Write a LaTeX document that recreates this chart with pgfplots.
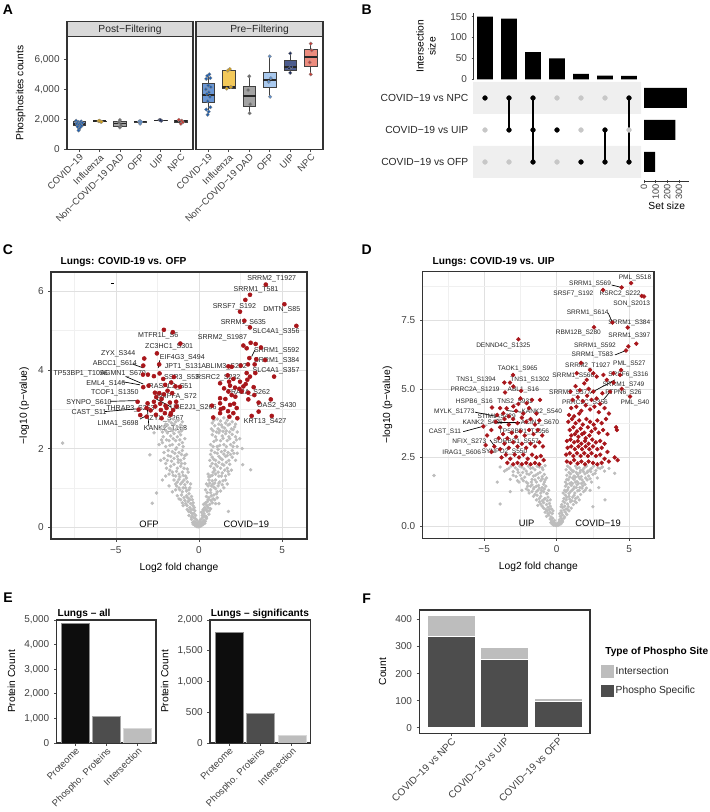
\documentclass[border=0pt]{standalone}
\usepackage{fontspec}
\setmainfont{Liberation Sans}
\usepackage{pgfplots}
\pgfplotsset{compat=1.18}
\usepgfplotslibrary{statistics}

\definecolor{covf}{HTML}{6A97D6}\definecolor{covp}{HTML}{1F5FAF}
\definecolor{inff}{HTML}{F3C95A}\definecolor{infp}{HTML}{D4A017}
\definecolor{dadf}{HTML}{A3A3A3}\definecolor{dadp}{HTML}{6E6E6E}
\definecolor{ofpf}{HTML}{A9C9EE}\definecolor{ofpp}{HTML}{5B8FD0}
\definecolor{uipf}{HTML}{4C5C8E}\definecolor{uipp}{HTML}{1B2A5C}
\definecolor{npcf}{HTML}{EC8C7E}\definecolor{npcp}{HTML}{C43B35}
\definecolor{vgray}{HTML}{BDBDBD}\definecolor{vred}{HTML}{A8161B}
\definecolor{strip}{HTML}{D9D9D9}\definecolor{band}{HTML}{EFEFEF}
\definecolor{phs}{HTML}{4D4D4D}\definecolor{ints}{HTML}{BDBDBD}

\newcommand{\ft}{\fontsize{7.5}{8.5}\selectfont}
\newcommand{\fts}{\fontsize{7.1}{8}\selectfont}
\newcommand{\fl}{\fontsize{7.7}{9}\selectfont}
\newcommand{\ftb}{\fontsize{7.6}{9}\selectfont\bfseries}
\newcommand{\fpl}{\fontsize{10.5}{12}\selectfont\bfseries}

\tikzset{
  lc/.style={font=\fontsize{5.3}{6}\selectfont, inner sep=0.3pt, text=black!85},
  ld/.style={font=\fontsize{4.9}{5.6}\selectfont, inner sep=0.3pt, text=black!85},
}
\pgfplotsset{
  every axis/.append style={scale only axis, tick align=outside, major tick length=2pt,
    minor tick length=0pt, tick style={black!70, line width=0.5pt},
    axis line style={black!80, line width=0.8pt}, tick pos=left,
    tick label style={font=\ft, text=black!75}, label style={font=\fl},
    /pgf/number format/assume math mode=true},
  vol/.style={grid=both, major grid style={black!12, line width=0.5pt},
    minor grid style={black!6, line width=0.35pt}, axis line style={black!80, line width=1.1pt},
    xlabel={Log2 fold change}, ylabel={−log10 (p−value)}},
  bx/.style={boxplot/draw direction=y, boxplot/every median/.style={draw=black!85, line width=1.3pt}},
}

\begin{document}
\begin{tikzpicture}
\useasboundingbox (0,0) rectangle (531.75pt,609pt);

% ---------------- Panel A ----------------
\begin{axis}[name=a1, at={(50.25pt,496.9pt)}, anchor=south west, width=94.5pt, height=84.4pt,
  bx, xmin=0.4, xmax=6.6, ymin=-20, ymax=7500, xtick={1,2,3,4,5,6},
  xticklabels={COVID−19,Influenza,Non−COVID−19 DAD,OFP,UIP,NPC},
  xticklabel style={rotate=45, anchor=north east, inner sep=0.5pt, font=\fts},
  ytick={0,2000,4000,6000}, yticklabels={0,{2,000},{4,000},{6,000}},
  ylabel={Phosphosites counts}]
\addplot[boxplot prepared={draw position=1, lower whisker=1250, lower quartile=1580, median=1670, upper quartile=1840, upper whisker=1900, box extend=0.62, whisker extend=0}, draw=black!75, fill=covf] coordinates {};
\addplot[boxplot prepared={draw position=2, lower whisker=1830, lower quartile=1840, median=1860, upper quartile=1890, upper whisker=1900, box extend=0.62, whisker extend=0}, draw=black!75, fill=inff] coordinates {};
\addplot[boxplot prepared={draw position=3, lower whisker=1450, lower quartile=1560, median=1710, upper quartile=1840, upper whisker=1950, box extend=0.62, whisker extend=0}, draw=black!75, fill=dadf] coordinates {};
\addplot[boxplot prepared={draw position=4, lower whisker=1700, lower quartile=1810, median=1850, upper quartile=1880, upper whisker=1880, box extend=0.62, whisker extend=0}, draw=black!75, fill=ofpf] coordinates {};
\addplot[boxplot prepared={draw position=5, lower whisker=1900, lower quartile=1905, median=1920, upper quartile=1940, upper whisker=1950, box extend=0.62, whisker extend=0}, draw=black!75, fill=uipf] coordinates {};
\addplot[boxplot prepared={draw position=6, lower whisker=1700, lower quartile=1800, median=1880, upper quartile=1920, upper whisker=1960, box extend=0.62, whisker extend=0}, draw=black!75, fill=npcf] coordinates {};
\addplot[only marks, mark=*, mark size=1.35pt, mark options={fill=covp, draw=black!45, line width=0.2pt}] coordinates {(0.85,1900)(1.1,1850)(0.95,1820)(1.05,1800)(0.9,1780)(1.15,1750)(1.0,1700)(0.88,1680)(1.08,1650)(0.95,1600)(1.12,1550)(0.92,1500)(1.05,1450)(1.0,1350)(0.97,1250)};
\addplot[only marks, mark=*, mark size=1.35pt, mark options={fill=infp, draw=black!45, line width=0.2pt}] coordinates {(1.95,1880)(2.05,1840)(2.0,1900)(2.1,1830)};
\addplot[only marks, mark=*, mark size=1.35pt, mark options={fill=dadp, draw=black!45, line width=0.2pt}] coordinates {(3.0,1950)(2.95,1800)(3.05,1600)(3.0,1450)};
\addplot[only marks, mark=*, mark size=1.35pt, mark options={fill=ofpp, draw=black!45, line width=0.2pt}] coordinates {(4.0,1880)(3.95,1850)(4.05,1820)(4.0,1700)};
\addplot[only marks, mark=*, mark size=1.35pt, mark options={fill=uipp, draw=black!45, line width=0.2pt}] coordinates {(5.0,1920)(4.95,1950)(5.05,1900)(5.0,1930)};
\addplot[only marks, mark=*, mark size=1.35pt, mark options={fill=npcp, draw=black!45, line width=0.2pt}] coordinates {(5.9,1960)(6.05,1900)(6.1,1800)(6.0,1700)};
\end{axis}

\begin{axis}[name=a2, at={(147pt,496.9pt)}, anchor=south west, width=95.25pt, height=84.4pt,
  bx, xmin=0.4, xmax=6.6, ymin=-20, ymax=7500, xtick={1,2,3,4,5,6},
  xticklabels={COVID−19,Influenza,Non−COVID−19 DAD,OFP,UIP,NPC},
  xticklabel style={rotate=45, anchor=north east, inner sep=0.5pt, font=\fts},
  ytick={0,2000,4000,6000}, yticklabels={}, ytick style={draw=none}]
\addplot[boxplot prepared={draw position=1, lower whisker=2300, lower quartile=3110, median=3640, upper quartile=4400, upper whisker=5020, box extend=0.62, whisker extend=0}, draw=black!75, fill=covf] coordinates {};
\addplot[boxplot prepared={draw position=2, lower whisker=4050, lower quartile=4070, median=4150, upper quartile=5270, upper whisker=5350, box extend=0.62, whisker extend=0}, draw=black!75, fill=inff] coordinates {};
\addplot[boxplot prepared={draw position=3, lower whisker=2400, lower quartile=2850, median=3530, upper quartile=4220, upper whisker=4870, box extend=0.62, whisker extend=0}, draw=black!75, fill=dadf] coordinates {};
\addplot[boxplot prepared={draw position=4, lower whisker=3510, lower quartile=4130, median=4600, upper quartile=5110, upper whisker=6220, box extend=0.62, whisker extend=0}, draw=black!75, fill=ofpf] coordinates {};
\addplot[boxplot prepared={draw position=5, lower whisker=5070, lower quartile=5250, median=5470, upper quartile=5930, upper whisker=6400, box extend=0.62, whisker extend=0}, draw=black!75, fill=uipf] coordinates {};
\addplot[boxplot prepared={draw position=6, lower whisker=5000, lower quartile=5560, median=6160, upper quartile=6670, upper whisker=7070, box extend=0.62, whisker extend=0}, draw=black!75, fill=npcf] coordinates {};
\addplot[only marks, mark=*, mark size=1.35pt, mark options={fill=covp, draw=black!45, line width=0.2pt}] coordinates {(1.05,5000)(0.95,4900)(1.1,4750)(0.9,4700)(1.0,4250)(1.12,4150)(0.88,4000)(1.03,3800)(0.93,3700)(1.08,3500)(0.97,3200)(1.1,2800)(0.9,2650)(1.02,2500)(0.97,2300)};
\addplot[only marks, mark=*, mark size=1.35pt, mark options={fill=infp, draw=black!45, line width=0.2pt}] coordinates {(2.05,5350)(1.95,5250)(2.1,4150)(1.9,4050)};
\addplot[only marks, mark=*, mark size=1.35pt, mark options={fill=dadp, draw=black!45, line width=0.2pt}] coordinates {(3.0,4870)(2.95,3950)(3.05,3000)(3.02,2400)};
\addplot[only marks, mark=*, mark size=1.35pt, mark options={fill=ofpp, draw=black!45, line width=0.2pt}] coordinates {(4.0,6200)(4.05,4750)(3.95,4500)(4.02,3500)};
\addplot[only marks, mark=*, mark size=1.35pt, mark options={fill=uipp, draw=black!45, line width=0.2pt}] coordinates {(5.0,6400)(4.95,5400)(5.05,5500)(5.0,5100)};
\addplot[only marks, mark=*, mark size=1.35pt, mark options={fill=npcp, draw=black!45, line width=0.2pt}] coordinates {(6.0,7050)(6.05,6600)(5.95,5800)(6.0,5000)};
\end{axis}
\draw[fill=strip, draw=black!80, line width=0.8pt] (a1.north west) rectangle ([yshift=11.25pt]a1.north east);
\draw[fill=strip, draw=black!80, line width=0.8pt] (a2.north west) rectangle ([yshift=11.25pt]a2.north east);
\node[font=\fl, text=black!85] at ([yshift=5.6pt]a1.north) {Post−Filtering};
\node[font=\fl, text=black!85] at ([yshift=5.6pt]a2.north) {Pre−Filtering};

% ---------------- Panel B ----------------
\begin{axis}[at={(354.75pt,549.5pt)}, anchor=south west, width=126pt, height=49.5pt,
  xmin=0.5, xmax=7.5, ymin=0, ymax=158, axis x line=none, axis y line=left,
  axis line style={-, black!80, line width=0.6pt}, xtick=\empty, ytick={0,50,100,150},
  ylabel={Intersection\\size}, ylabel style={align=center, at={(axis description cs:-0.28,0.5)}, anchor=center}]
\addplot[ybar, bar width=11.75pt, bar shift=0pt, fill=black, draw=none] coordinates {(1,150)(2,145)(3,65)(4,50)(5,13)(6,9)(7,8)};
\end{axis}

\begin{axis}[at={(354.75pt,475.5pt)}, anchor=south west, width=126pt, height=72pt,
  xmin=0.5, xmax=7.5, ymin=0.5, ymax=3.5, axis line style={draw=none}, xtick=\empty,
  ytick={1,2,3}, yticklabels={COVID−19 vs OFP,COVID−19 vs UIP,COVID−19 vs NPC},
  major tick length=0pt, yticklabel style={font=\fl, text=black!85}]
\addplot[fill=band, draw=none] coordinates {(0.5,2.5)(7.5,2.5)(7.5,3.5)(0.5,3.5)(0.5,2.5)};
\addplot[fill=band, draw=none] coordinates {(0.5,0.5)(7.5,0.5)(7.5,1.5)(0.5,1.5)(0.5,0.5)};
\addplot[only marks, mark=*, mark size=1.75pt, color=black!22] coordinates {(1,2)(1,1)(2,1)(4,3)(4,1)(5,3)(5,2)(6,3)(7,2)};
\addplot[black, line width=1.1pt] coordinates {(2,3)(2,2)};
\addplot[black, line width=1.1pt] coordinates {(3,3)(3,1)};
\addplot[black, line width=1.1pt] coordinates {(6,2)(6,1)};
\addplot[black, line width=1.1pt] coordinates {(7,3)(7,1)};
\addplot[only marks, mark=*, mark size=1.75pt, color=black] coordinates {(1,3)(2,3)(2,2)(3,3)(3,2)(3,1)(4,2)(5,1)(6,2)(6,1)(7,3)(7,1)};
\end{axis}

\begin{axis}[at={(483pt,472.7pt)}, anchor=south west, width=34.1pt, height=74.8pt,
  xmin=0, xmax=390, ymin=0.38, ymax=3.5, axis y line=none, axis x line=bottom,
  axis line style={-, black!80, line width=0.6pt}, xtick={0,100,200,300}, ytick=\empty,
  xticklabel style={rotate=90, anchor=east, inner sep=0.6pt, font=\fontsize{6.9}{7}\selectfont}, xlabel={Set size},
  xlabel style={yshift=2pt}]
\addplot[xbar, bar width=15pt, bar shift=0pt, fill=black, draw=none] coordinates {(368,3)(269,2)(95,1)};
\end{axis}

% ---------------- Panel C ----------------
\begin{axis}[vol, at={(38.25pt,204.75pt)}, anchor=south west, width=192pt, height=200.25pt,
  xmin=-8.9, xmax=6.5, ymin=-0.3, ymax=6.49, xtick={-5,0,5}, xticklabels={−5,0,5},
  ytick={0,2,4,6}, yticklabels={0,2,4,6}, minor xtick={-7.5,-2.5,2.5}, minor ytick={1,3,5}]
\addplot[only marks, mark=*, mark size=1.1pt, color=vgray] coordinates {
(-0.35,0.08)(-0.25,0.05)(-0.15,0.02)(-0.05,0.01)(0.05,0.02)(0.15,0.04)(0.25,0.07)(0.35,0.1)(-0.3,0.15)(-0.2,0.12)(-0.1,0.08)(0.1,0.1)(0.2,0.13)(0.3,0.18)(-0.45,0.2)(0.45,0.22)(0.0,0.05)(-0.12,0.18)(0.12,0.2)
(-0.6,0.3)(-0.5,0.38)(-0.4,0.28)(-0.3,0.35)(-0.2,0.3)(-0.7,0.45)(-0.55,0.5)(-0.35,0.45)(-0.25,0.42)(0.2,0.3)(0.3,0.35)(0.4,0.28)(0.5,0.4)(0.6,0.33)(0.7,0.47)(0.35,0.5)(0.55,0.5)(0.25,0.45)(-0.45,0.25)(0.45,0.26)
(-0.95,0.55)(-0.8,0.6)(-0.65,0.65)(-0.5,0.6)(-0.35,0.62)(-1.1,0.7)(-0.9,0.75)(-0.75,0.8)(-0.6,0.72)(-0.45,0.78)(-1.3,0.8)(0.35,0.6)(0.5,0.65)(0.65,0.58)(0.8,0.62)(0.95,0.7)(0.45,0.78)(0.6,0.75)(0.75,0.8)(0.9,0.82)(1.1,0.75)(1.2,0.6)
(-1.6,0.9)(-1.4,0.95)(-1.2,1.0)(-1.0,0.9)(-0.8,1.0)(-0.6,0.95)(-0.5,1.1)(-0.7,1.15)(-0.9,1.2)(-1.1,1.1)(-1.3,1.15)(-1.5,1.2)(-1.8,1.05)(0.4,0.95)(0.55,1.05)(0.7,0.95)(0.85,1.1)(1.0,0.98)(1.15,1.05)(1.3,0.92)(1.5,1.0)(0.6,1.2)(0.8,1.18)(1.0,1.2)(1.25,1.15)(1.45,1.18)(1.7,1.1)
(-2.0,1.3)(-1.8,1.35)(-1.6,1.4)(-1.4,1.3)(-1.2,1.35)(-1.0,1.4)(-0.8,1.3)(-0.65,1.4)(-0.9,1.5)(-1.1,1.55)(-1.3,1.5)(-1.5,1.6)(-1.7,1.55)(-1.95,1.5)(0.55,1.35)(0.7,1.3)(0.85,1.4)(1.0,1.35)(1.2,1.3)(1.4,1.38)(1.6,1.3)(1.8,1.35)(0.7,1.55)(0.9,1.5)(1.1,1.55)(1.3,1.5)(1.5,1.58)(1.7,1.5)(1.95,1.45)
(-2.3,1.7)(-2.1,1.75)(-1.9,1.7)(-1.7,1.8)(-1.5,1.75)(-1.3,1.8)(-1.1,1.7)(-0.9,1.75)(-0.75,1.85)(-1.0,1.95)(-1.2,1.9)(-1.4,1.98)(-1.6,1.92)(-1.85,1.95)(-2.1,1.9)(0.65,1.7)(0.8,1.78)(1.0,1.7)(1.2,1.8)(1.4,1.72)(1.6,1.8)(1.8,1.7)(2.0,1.78)(2.2,1.7)(0.75,1.95)(0.95,1.9)(1.15,1.98)(1.35,1.92)(1.55,1.95)(1.75,1.9)(2.0,1.95)(2.3,1.88)
(-2.4,2.1)(-2.2,2.15)(-2.0,2.05)(-1.8,2.2)(-1.6,2.1)(-1.4,2.2)(-1.2,2.1)(-1.0,2.15)(-0.85,2.25)(-1.1,2.35)(-1.3,2.3)(-1.5,2.38)(-1.7,2.32)(-1.9,2.4)(-2.15,2.3)(0.7,2.1)(0.9,2.18)(1.1,2.05)(1.3,2.2)(1.5,2.1)(1.7,2.2)(1.9,2.1)(2.1,2.15)(2.3,2.05)(0.8,2.35)(1.0,2.3)(1.2,2.4)(1.4,2.32)(1.6,2.38)(1.8,2.3)(2.0,2.36)(2.2,2.3)(2.45,2.25)
(-2.3,2.5)(-2.1,2.55)(-1.9,2.6)(-1.7,2.5)(-1.5,2.62)(-1.3,2.55)(-1.1,2.6)(-0.95,2.5)(-1.25,2.72)(-1.55,2.75)(-1.8,2.7)(0.75,2.5)(0.95,2.58)(1.15,2.5)(1.35,2.6)(1.55,2.52)(1.75,2.6)(1.95,2.5)(2.15,2.55)(0.9,2.72)(1.1,2.75)(1.3,2.7)(1.5,2.78)(1.7,2.72)(2.0,2.68)
(-8.2,2.14)(-2.81,0.61)(-2.55,0.87)(-2.95,1.84)(3.11,1.46)(2.63,1.59)(1.77,0.40)(-2.7,2.4)(2.6,2.0)(-2.2,1.2)
(-0.28,0.1)(-0.18,0.07)(-0.08,0.04)(0.08,0.06)(0.18,0.09)(0.28,0.12)(-0.38,0.12)(0.38,0.15)(-0.05,0.12)(0.05,0.15)(-0.22,0.22)(0.22,0.25)(-0.32,0.25)(0.32,0.28)
(-0.42,0.35)(-0.62,0.4)(-0.48,0.45)(-0.36,0.55)(-0.28,0.5)(0.15,0.38)(0.28,0.42)(0.42,0.45)(0.62,0.42)(0.48,0.55)(0.4,0.62)(0.28,0.58)
(-0.72,0.55)(-0.85,0.68)(-0.68,0.75)(-0.55,0.7)(-1.0,0.62)(-1.2,0.72)(-1.05,0.82)(-0.4,0.7)(0.72,0.68)(0.85,0.72)(0.55,0.7)(1.0,0.6)(1.05,0.85)(0.7,0.88)(0.5,0.88)
(-0.6,0.85)(-0.75,0.92)(-0.95,1.0)(-1.15,0.95)(-1.35,1.05)(-0.55,1.0)(-0.85,1.08)(-1.0,1.15)(-1.2,1.22)(-1.4,1.1)(0.45,1.1)(0.65,1.12)(0.9,1.02)(1.1,0.9)(1.2,1.12)(1.4,1.08)(0.75,1.05)(0.95,1.12)(1.6,1.2)
(-0.75,1.25)(-0.95,1.32)(-1.15,1.28)(-1.35,1.42)(-1.55,1.32)(-1.75,1.45)(-0.7,1.48)(-1.05,1.62)(-1.25,1.65)(-0.85,1.62)(0.6,1.28)(0.8,1.32)(0.95,1.45)(1.15,1.4)(1.35,1.3)(1.55,1.45)(1.75,1.42)(0.8,1.62)(1.0,1.6)(1.2,1.65)(1.4,1.6)(1.65,1.65)(1.85,1.6)
(-0.85,1.82)(-1.05,1.85)(-1.25,1.72)(-1.45,1.88)(-1.65,1.68)(-1.85,1.82)(-2.0,1.62)(0.7,1.85)(0.9,1.72)(1.1,1.88)(1.3,1.75)(1.5,1.86)(1.7,1.82)(1.9,1.85)(2.1,1.88)
(-0.95,2.05)(-1.15,2.22)(-1.35,2.02)(-1.55,2.25)(-1.75,2.08)(-1.95,2.22)(-2.25,2.22)(0.85,2.05)(1.05,2.22)(1.25,2.08)(1.45,2.26)(1.65,2.05)(1.85,2.25)(2.05,2.05)(2.25,2.22)
(-1.05,2.45)(-1.2,2.42)(-1.4,2.48)(-1.6,2.45)(-1.8,2.52)(-2.0,2.46)(-2.2,2.42)(0.85,2.45)(1.05,2.42)(1.25,2.46)(1.45,2.44)(1.65,2.45)(1.85,2.42)(2.05,2.48)(2.3,2.42)
(-1.0,2.68)(-1.4,2.68)(-1.65,2.65)(-2.0,2.62)(0.8,2.65)(1.2,2.62)(1.4,2.55)(1.6,2.65)(1.85,2.62)(2.2,2.62)};
\addplot[only marks, mark=*, mark size=1.5pt, color=vred] coordinates {
(4.02,6.17)(3.07,5.91)(2.79,5.78)(2.47,5.48)(5.14,5.67)(2.73,5.25)(3.07,5.08)(5.86,5.12)(-2.11,5.02)(-1.57,4.96)(-1.12,4.67)(2.67,4.62)(3.11,4.69)(2.87,4.55)(3.41,4.66)(3.73,4.57)(-2.53,4.42)(3.03,4.30)(3.45,4.27)(3.98,4.25)(-3.29,4.29)(-2.39,4.14)(2.95,4.14)(3.35,4.14)(-3.35,4.11)(1.77,4.09)(1.97,4.08)(2.51,4.11)
(-2.37,3.91)(-2.71,3.84)(-3.07,3.88)(-3.37,3.88)(-1.51,3.82)(-2.15,3.77)(4.52,3.83)(3.39,3.92)(2.87,3.92)(3.07,3.83)(2.91,3.75)(1.73,3.86)(1.81,3.70)(2.07,3.77)(2.47,3.70)(2.81,3.64)(-3.03,3.60)(-3.35,3.56)(-1.67,3.68)(-1.41,3.58)(-1.14,3.57)(-2.03,3.62)
(1.27,3.66)(1.51,3.53)(1.87,3.60)(2.17,3.55)(2.43,3.52)(2.67,3.58)(1.77,3.45)(1.97,3.36)(1.27,3.28)(1.59,3.26)(2.19,3.32)(2.57,3.45)(2.97,3.42)(3.29,3.56)(3.33,3.36)(-2.65,3.42)(-2.39,3.41)(-2.11,3.38)(-2.57,3.31)(-2.25,3.26)(-1.89,3.47)(-1.61,3.41)
(-2.71,3.19)(-2.33,3.14)(-2.01,3.09)(-1.75,3.17)(-1.37,3.19)(-3.69,3.19)(-3.09,3.15)(-3.15,3.03)(-2.91,2.97)(-2.63,3.07)(-2.29,2.98)(-1.95,3.03)(-1.55,2.98)(-1.69,2.90)(-1.35,3.07)
(0.78,3.09)(1.27,3.15)(1.47,3.03)(1.87,3.11)(2.11,3.14)(2.27,3.03)(2.97,3.25)(3.59,3.17)(4.32,3.25)(3.59,2.94)(4.38,2.83)(1.31,3.00)(1.75,2.95)(2.07,2.90)(2.31,2.77)(0.86,2.79)(1.83,2.81)(3.17,2.83)(1.27,2.90)
(-3.63,2.99)(-3.53,2.85)(-3.15,2.81)(-2.59,2.86)(-2.25,2.77)(-1.71,2.86)(-2.05,2.90)};
\addplot[black, line width=0.5pt] coordinates {(-4.40,3.83)(-3.35,3.64)};
\addplot[black, line width=0.5pt] coordinates {(-4.60,3.70)(-3.55,3.62)};
\addplot[black, line width=0.5pt] coordinates {(-5.36,3.20)(-3.75,3.22)};
\addplot[black, line width=0.5pt] coordinates {(-5.66,2.94)(-3.75,3.01)};
\addplot[black, line width=0.5pt] coordinates {(-3.01,2.56)(-3.11,3.04)};
\addplot[black, line width=0.5pt] coordinates {(-3.55,2.75)(-3.19,2.83)};
\addplot[black, line width=0.5pt] coordinates {(-2.65,3.28)(-1.65,3.05)};
\addplot[black, line width=0.5pt] coordinates {(3.37,4.51)(3.17,4.34)};
\addplot[black, line width=0.5pt] coordinates {(-4.0,4.15)(-3.35,4.05)};
\addplot[black, line width=0.5pt] coordinates {(-2.35,4.25)(-2.45,4.05)};
\addplot[black, line width=0.6pt] coordinates {(-5.3,6.2)(-5.1,6.2)};
\node[lc] at (axis cs:4.38,6.31) {SRRM2\_T1927};
\node[lc] at (axis cs:3.43,6.05) {SRRM1\_T581};
\node[lc] at (axis cs:2.13,5.61) {SRSF7\_S192};
\node[lc] at (axis cs:4.98,5.53) {DMTN\_S85};
\node[lc] at (axis cs:2.67,5.21) {SRRM1\_S635};
\node[lc] at (axis cs:4.64,4.96) {SLC4A1\_S356};
\node[lc] at (axis cs:-2.45,4.86) {MTFR1L\_S6};
\node[lc] at (axis cs:1.41,4.83) {SRRM2\_S1987};
\node[lc] at (axis cs:-1.79,4.59) {ZC3HC1\_S301};
\node[lc] at (axis cs:4.68,4.48) {SRRM1\_S592};
\node[lc] at (axis cs:-4.86,4.41) {ZYX\_S344};
\node[lc] at (axis cs:-1.00,4.32) {EIF4G3\_S494};
\node[lc] at (axis cs:4.68,4.23) {SRRM1\_S384};
\node[lc] at (axis cs:-5.06,4.15) {ABCC1\_S614};
\node[lc] at (axis cs:-0.94,4.07) {JPT1\_S131};
\node[lc] at (axis cs:1.51,4.08) {ABLIM3\_S282};
\node[lc] at (axis cs:4.64,3.98) {SLC4A1\_S357};
\node[lc] at (axis cs:-7.11,3.90) {TP53BP1\_T1056};
\node[lc] at (axis cs:-4.56,3.90) {AGMN1\_S670};
\node[lc] at (axis cs:-1.04,3.81) {SSR3\_S53};
\node[lc] at (axis cs:1.16,3.81) {RSRC2\_S232};
\node[lc] at (axis cs:-5.60,3.66) {EML4\_S146};
\node[lc] at (axis cs:-1.71,3.56) {RASAL3\_S51};
\node[lc] at (axis cs:-5.06,3.41) {TCOF1\_S1350};
\node[lc] at (axis cs:2.97,3.42) {TRA2A\_S262};
\node[lc] at (axis cs:-1.35,3.31) {SMPFA\_S72};
\node[lc] at (axis cs:-6.61,3.17) {SYNPO\_S610};
\node[lc] at (axis cs:-0.34,3.05) {UBE2J1\_S266};
\node[lc] at (axis cs:4.68,3.09) {OAS2\_S430};
\node[lc] at (axis cs:-4.12,3.01) {THRAP3\_S253};
\node[lc] at (axis cs:-6.61,2.90) {CAST\_S11};
\node[lc] at (axis cs:-4.86,2.64) {LIMA1\_S698};
\node[lc] at (axis cs:-1.95,2.77) {ZYX\_S267};
\node[lc] at (axis cs:3.98,2.69) {KRT13\_S427};
\node[lc] at (axis cs:-2.01,2.51) {KANK2\_T168};
\node[font=\fontsize{7}{8}\selectfont] at (axis cs:-3.0,0.08) {OFP};
\node[font=\fontsize{7}{8}\selectfont] at (axis cs:2.85,0.08) {COVID−19};
\end{axis}
\node[anchor=west, font=\ftb] at (42pt,412.5pt) {Lungs: COVID-19 vs. OFP};

% ---------------- Panel D ----------------
\begin{axis}[vol, at={(317pt,205.3pt)}, anchor=south west, width=173.5pt, height=200pt,
  xmin=-9.24, xmax=6.71, ymin=-0.45, ymax=9.28, xtick={-5,0,5}, xticklabels={−5,0,5},
  ytick={0,2.5,5,7.5}, yticklabels={0.0,2.5,5.0,7.5}, minor xtick={-7.5,-2.5,2.5},
  minor ytick={1.25,3.75,6.25,8.75}]
\addplot[only marks, mark=*, mark size=1.05pt, color=vgray] coordinates {
(-0.3,0.06)(-0.2,0.03)(-0.1,0.02)(0.0,0.01)(0.1,0.03)(0.2,0.05)(0.3,0.08)(-0.35,0.18)(-0.22,0.14)(-0.1,0.1)(0.12,0.12)(0.25,0.15)(0.38,0.2)(-0.45,0.25)(0.5,0.28)
(-0.7,0.35)(-0.55,0.4)(-0.4,0.33)(-0.3,0.45)(-0.8,0.5)(-0.65,0.55)(-0.5,0.6)(-0.9,0.65)(-0.35,0.62)(0.25,0.35)(0.4,0.4)(0.55,0.33)(0.7,0.42)(0.3,0.55)(0.5,0.58)(0.65,0.62)(0.85,0.55)(1.0,0.65)(0.4,0.68)
(-1.3,0.75)(-1.1,0.8)(-0.9,0.85)(-0.7,0.78)(-0.5,0.82)(-1.4,0.95)(-1.2,1.0)(-1.0,0.92)(-0.8,1.0)(-0.6,1.05)(-1.6,1.08)(0.35,0.78)(0.55,0.85)(0.75,0.8)(0.95,0.88)(1.15,0.78)(1.35,0.85)(0.5,1.0)(0.7,1.05)(0.9,0.98)(1.1,1.05)(1.3,1.0)(1.55,0.95)
(-1.9,1.2)(-1.7,1.25)(-1.5,1.15)(-1.3,1.3)(-1.1,1.2)(-0.9,1.25)(-0.7,1.18)(-0.55,1.3)(-2.1,1.35)(-1.8,1.45)(-1.55,1.4)(-1.25,1.48)(-1.0,1.4)(-0.75,1.45)(-2.4,1.3)(0.45,1.2)(0.65,1.25)(0.85,1.18)(1.05,1.3)(1.25,1.2)(1.45,1.28)(1.65,1.15)(1.85,1.25)(0.6,1.45)(0.8,1.4)(1.0,1.48)(1.2,1.42)(1.4,1.5)(1.6,1.4)(1.8,1.46)(2.05,1.38)(2.3,1.3)
(-2.6,1.6)(-2.3,1.65)(-2.0,1.55)(-1.7,1.7)(-1.4,1.6)(-1.1,1.65)(-0.85,1.6)(-0.7,1.75)(-2.8,1.8)(-2.5,1.85)(-2.2,1.78)(-1.9,1.88)(-1.6,1.82)(-1.3,1.9)(-1.0,1.8)(-3.2,1.7)(0.6,1.6)(0.8,1.68)(1.0,1.58)(1.2,1.7)(1.4,1.62)(1.6,1.72)(1.85,1.6)(2.1,1.68)(2.4,1.6)(0.7,1.85)(0.95,1.9)(1.2,1.82)(1.45,1.88)(1.7,1.8)(1.95,1.9)(2.2,1.82)(2.5,1.88)(2.8,1.75)
(-3.6,2.0)(-3.3,2.1)(-3.0,1.98)(-2.7,2.05)(-2.4,2.15)(-2.1,2.0)(-1.8,2.1)(-1.5,2.05)(-1.2,2.15)(-0.95,2.05)(-0.8,2.2)(-3.9,2.15)(0.65,2.05)(0.9,2.12)(1.15,2.0)(1.4,2.1)(1.65,2.02)(1.9,2.12)(2.15,2.0)(2.4,2.1)(2.7,2.02)(3.0,2.1)(3.3,2.0)(3.6,2.1)
(-8.46,1.84)(-3.9,0.8)(-3.2,1.25)(4.0,1.92)(3.33,0.95)(2.5,0.7)(-4.1,1.6)(2.9,1.4)
(-0.25,0.1)(-0.15,0.06)(-0.05,0.05)(0.05,0.07)(0.15,0.09)(0.25,0.12)(-0.4,0.12)(0.4,0.15)(-0.28,0.28)(0.32,0.28)(-0.15,0.2)(0.18,0.22)
(-0.6,0.45)(-0.45,0.5)(-0.75,0.6)(-0.6,0.68)(-0.45,0.72)(-0.25,0.55)(0.2,0.45)(0.35,0.48)(0.6,0.5)(0.75,0.6)(0.55,0.72)(0.8,0.7)(0.3,0.7)
(-1.0,0.72)(-1.2,0.88)(-0.85,0.98)(-0.65,0.92)(-1.1,1.08)(-1.35,1.12)(-0.45,0.95)(0.45,0.9)(0.65,0.95)(0.85,1.08)(1.05,0.92)(1.25,0.9)(1.45,1.05)(0.6,1.12)(1.2,1.12)
(-0.65,1.18)(-0.85,1.35)(-1.05,1.3)(-1.2,1.38)(-1.4,1.25)(-1.6,1.35)(-1.95,1.3)(-1.4,1.45)(-1.7,1.5)(-2.0,1.45)(-0.9,1.52)(0.55,1.3)(0.75,1.32)(0.95,1.25)(1.15,1.35)(1.35,1.4)(1.55,1.3)(1.75,1.38)(1.95,1.3)(0.7,1.52)(0.9,1.55)(1.1,1.55)(1.3,1.6)(1.5,1.55)(1.7,1.55)(1.95,1.52)
(-0.8,1.68)(-1.0,1.72)(-1.25,1.75)(-1.5,1.68)(-1.75,1.6)(-2.1,1.6)(-2.4,1.72)(-2.7,1.65)(-0.85,1.88)(-1.15,1.95)(-1.45,1.85)(-1.75,1.95)(-2.05,1.9)(-2.35,1.95)(-2.65,1.95)(-3.0,1.85)(0.7,1.7)(0.9,1.78)(1.1,1.75)(1.3,1.78)(1.5,1.8)(1.75,1.68)(2.0,1.75)(2.3,1.72)(0.85,1.95)(1.1,1.98)(1.35,1.95)(1.6,1.95)(1.85,1.98)(2.1,1.95)(2.35,1.98)(2.65,1.92)
(-1.0,2.12)(-1.35,2.18)(-1.65,2.12)(-1.95,2.18)(-2.25,2.08)(-2.55,2.18)(-2.85,2.12)(-3.15,2.18)(-3.45,2.05)(0.75,2.18)(1.0,2.05)(1.3,2.18)(1.55,2.12)(1.8,2.05)(2.05,2.18)(2.3,2.05)(2.55,2.18)(2.85,2.12)(3.15,2.15)};
\addplot[only marks, mark=*, mark size=1.45pt, color=vred] coordinates {
(5.13,8.86)(4.48,8.70)(3.20,8.61)(5.86,8.39)(6.02,8.37)(3.84,7.42)(4.90,7.24)(2.57,7.25)(-2.64,6.81)(5.49,6.65)(4.94,6.55)(4.78,6.40)(1.68,5.95)
(1.38,5.57)(2.30,5.69)(2.53,5.57)(2.07,5.33)(2.76,5.45)(3.22,5.51)(3.91,5.57)(4.44,5.69)(4.37,5.51)
(-3.01,5.51)(-3.61,5.23)(-3.22,5.23)(-3.56,4.87)(-2.99,5.09)(-2.46,4.93)(-1.15,4.60)
(3.45,5.33)(3.91,5.23)(3.68,4.90)(3.15,4.84)(2.53,4.90)(4.48,5.00)(5.06,4.72)
(-4.46,4.32)(-3.68,4.11)(-3.45,4.29)(-2.99,4.36)(-2.64,4.45)(-2.07,4.48)(-5.06,3.63)
(0.95,4.9)(1.3,5.1)(1.6,4.95)(1.9,5.2)(2.2,5.0)(1.1,4.6)(1.45,4.7)(1.8,4.55)(2.1,4.75)(2.4,4.6)(2.75,4.65)(3.0,4.45)(1.0,4.3)(1.35,4.35)(1.7,4.2)(2.0,4.4)(2.3,4.25)(2.6,4.35)(2.9,4.15)(3.3,4.3)(3.6,4.1)(0.85,4.05)(1.2,4.0)(1.55,4.1)
(0.8,3.8)(1.05,3.9)(1.3,3.75)(1.55,3.85)(1.8,3.7)(2.05,3.9)(2.3,3.8)(2.55,3.7)(2.8,3.85)(3.1,3.75)(3.4,3.9)(0.9,3.5)(1.15,3.6)(1.4,3.45)(1.65,3.55)(1.9,3.4)(2.15,3.6)(2.4,3.45)(2.65,3.55)(2.9,3.4)(3.2,3.5)(3.5,3.35)(1.0,3.3)(1.25,3.35)(1.5,3.25)(1.75,3.35)(2.0,3.2)(2.25,3.3)
(0.7,3.1)(0.95,3.15)(1.2,3.05)(1.45,3.1)(1.7,3.0)(1.95,3.1)(2.2,3.0)(2.45,3.15)(2.7,3.05)(3.0,3.1)(3.3,3.0)(0.75,2.85)(1.0,2.9)(1.25,2.8)(1.5,2.9)(1.75,2.8)(2.0,2.9)(2.25,2.8)(2.5,2.9)(2.8,2.8)(3.1,2.85)(3.5,2.7)
(0.65,2.6)(0.9,2.65)(1.15,2.55)(1.4,2.65)(1.65,2.55)(1.9,2.65)(2.15,2.55)(2.4,2.65)(2.7,2.55)(3.0,2.6)(3.3,2.45)(3.6,2.35)(4.0,2.5)(4.2,2.4)(0.7,2.35)(0.95,2.3)(1.2,2.4)(1.45,2.28)(1.7,2.35)(1.95,2.25)(2.2,2.35)(2.5,2.3)(2.8,2.25)(3.1,2.3)(4.1,3.6)(4.15,3.5)
(-4.8,3.3)(-4.5,3.5)(-4.2,3.8)(-3.9,3.6)(-3.6,3.9)(-3.3,3.7)(-3.0,3.9)(-2.7,3.75)(-2.4,3.95)(-2.1,3.8)(-1.8,3.9)(-1.5,3.7)(-1.2,3.85)(-4.0,3.2)(-3.7,3.35)(-3.4,3.2)(-3.1,3.4)(-2.8,3.25)(-2.5,3.45)(-2.2,3.3)(-1.9,3.5)(-1.6,3.35)(-1.3,3.5)(-1.0,3.3)
(-4.3,2.9)(-3.9,2.8)(-3.6,3.0)(-3.3,2.85)(-3.0,3.05)(-2.7,2.9)(-2.4,3.0)(-2.1,2.85)(-1.8,3.0)(-1.5,2.9)(-1.2,3.05)(-0.95,2.9)(-3.8,2.5)(-3.5,2.6)(-3.2,2.45)(-2.9,2.6)(-2.6,2.5)(-2.3,2.6)(-2.0,2.45)(-1.7,2.6)(-1.4,2.5)(-1.1,2.55)(-0.9,2.4)
(-3.4,2.3)(-3.0,2.25)(-2.7,2.3)(-2.4,2.25)(-2.1,2.3)(-1.8,2.25)(-1.5,2.3)(-1.2,2.25)(-4.5,2.7)(-4.9,2.95)
(-3.9,4.3)(-3.3,4.0)(-2.8,4.2)(-2.3,4.1)(-1.9,4.3)(-1.4,4.1)(-4.1,4.05)(-1.7,4.6)(-2.5,4.65)};
\addplot[black, line width=0.5pt] coordinates {(3.79,8.79)(4.48,8.70)};
\addplot[black, line width=0.5pt] coordinates {(3.56,7.76)(3.84,7.42)};
\addplot[black, line width=0.5pt] coordinates {(4.02,6.24)(4.78,6.40)};
\addplot[black, line width=0.5pt] coordinates {(2.30,4.84)(4.02,5.33)};
\addplot[black, line width=0.5pt] coordinates {(3.22,4.60)(3.68,4.90)};
\addplot[black, line width=0.5pt] coordinates {(-5.63,4.15)(-3.91,3.97)};
\addplot[black, line width=0.5pt] coordinates {(-3.45,4.21)(-2.41,4.15)};
\addplot[black, line width=0.5pt] coordinates {(-4.14,3.77)(-2.53,3.77)};
\addplot[black, line width=0.5pt] coordinates {(-6.44,3.44)(-5.10,3.63)};
\addplot[black, line width=0.5pt] coordinates {(-4.6,3.14)(-4.25,2.89)};
\node[ld] at (axis cs:5.40,9.04) {PML\_S518};
\node[ld] at (axis cs:2.30,8.82) {SRRM1\_S569};
\node[ld] at (axis cs:1.15,8.46) {SRSF7\_S192};
\node[ld] at (axis cs:4.37,8.46) {RSRC2\_S222};
\node[ld] at (axis cs:5.17,8.10) {SON\_S2013};
\node[ld] at (axis cs:2.14,7.76) {SRRM1\_S614};
\node[ld] at (axis cs:5.01,7.42) {SRRM1\_S384};
\node[ld] at (axis cs:1.49,7.03) {RBM12B\_S280};
\node[ld] at (axis cs:5.01,6.93) {SRRM1\_S397};
\node[ld] at (axis cs:-3.68,6.58) {DENND4C\_S1325};
\node[ld] at (axis cs:2.64,6.57) {SRRM1\_S592};
\node[ld] at (axis cs:2.46,6.23) {SRRM1\_T583};
\node[ld] at (axis cs:5.01,5.91) {PML\_S527};
\node[ld] at (axis cs:2.14,5.85) {SRRM2\_T1927};
\node[ld] at (axis cs:-2.69,5.72) {TAOK1\_S965};
\node[ld] at (axis cs:1.15,5.47) {SRRM1\_S566};
\node[ld] at (axis cs:4.94,5.51) {SRSF6\_S316};
\node[ld] at (axis cs:-5.56,5.33) {TNS1\_S1394};
\node[ld] at (axis cs:-1.84,5.33) {TNS1\_S1302};
\node[ld] at (axis cs:4.60,5.15) {SRRM1\_S749};
\node[ld] at (axis cs:-5.63,4.96) {PRRC2A\_S1219};
\node[ld] at (axis cs:-2.30,4.96) {ABL1\_S16};
\node[ld] at (axis cs:0.92,4.84) {SRRM2\_S377};
\node[ld] at (axis cs:4.60,4.84) {PTPN6\_S26};
\node[ld] at (axis cs:-5.68,4.51) {HSPB6\_S16};
\node[ld] at (axis cs:-2.87,4.51) {TNS2\_S931};
\node[ld] at (axis cs:1.95,4.48) {PRRC2C\_S356};
\node[ld] at (axis cs:5.40,4.48) {PML\_S40};
\node[ld] at (axis cs:-7.06,4.15) {MYLK\_S1773};
\node[ld] at (axis cs:-1.03,4.15) {KANK2\_S540};
\node[ld] at (axis cs:-4.14,3.97) {STIM1\_S429};
\node[ld] at (axis cs:-5.10,3.77) {KANK2\_S436};
\node[ld] at (axis cs:-1.15,3.75) {ACIN1\_S670};
\node[ld] at (axis cs:-7.70,3.44) {CAST\_S11};
\node[ld] at (axis cs:-2.25,3.42) {TP53BP1\_T1056};
\node[ld] at (axis cs:-6.02,3.05) {NFIX\_S273};
\node[ld] at (axis cs:-2.80,3.05) {SORBS1\_S557};
\node[ld] at (axis cs:-6.55,2.65) {IRAG1\_S606};
\node[ld] at (axis cs:-3.60,2.69) {SYNPO2\_S550};
\node[font=\fontsize{7}{8}\selectfont] at (axis cs:-2.07,0.08) {UIP};
\node[font=\fontsize{7}{8}\selectfont] at (axis cs:2.85,0.08) {COVID−19};
\end{axis}
\node[anchor=west, font=\ftb] at (321pt,412.5pt) {Lungs: COVID-19 vs. UIP};

% ---------------- Panel E ----------------
\begin{axis}[name=e1, at={(42.5pt,51.75pt)}, anchor=south west, width=74.5pt, height=92.25pt,
  xmin=0.4, xmax=3.6, ymin=0, ymax=5000, xtick={1,2,3},
  xticklabels={Proteome,Phospho. Proteins,Intersection},
  xticklabel style={rotate=45, anchor=north east, inner sep=0.5pt, font=\fts},
  ytick={0,1000,2000,3000,4000,5000}, yticklabels={0,{1,000},{2,000},{3,000},{4,000},{5,000}},
  ylabel={Protein Count}]
\addplot[ybar, bar width=21pt, bar shift=0pt, fill=black!95, draw=black!45, line width=0.3pt] coordinates {(1,4850)};
\addplot[ybar, bar width=21pt, bar shift=0pt, fill=phs, draw=black!35, line width=0.3pt] coordinates {(2,1100)};
\addplot[ybar, bar width=21pt, bar shift=0pt, fill=ints, draw=black!15, line width=0.3pt] coordinates {(3,610)};
\end{axis}
\node[anchor=south west, font=\ftb, inner sep=0.5pt] at ([yshift=0.6pt]e1.north west) {Lungs – all};

\begin{axis}[name=e2, at={(157.5pt,51.75pt)}, anchor=south west, width=75.5pt, height=92.25pt,
  xmin=0.4, xmax=3.6, ymin=0, ymax=2000, xtick={1,2,3},
  xticklabels={Proteome,Phospho. Proteins,Intersection},
  xticklabel style={rotate=45, anchor=north east, inner sep=0.5pt, font=\fts},
  ytick={0,500,1000,1500,2000}, yticklabels={0,500,{1,000},{1,500},{2,000}},
  ylabel={Protein Count}]
\addplot[ybar, bar width=21pt, bar shift=0pt, fill=black!95, draw=black!45, line width=0.3pt] coordinates {(1,1800)};
\addplot[ybar, bar width=21pt, bar shift=0pt, fill=phs, draw=black!35, line width=0.3pt] coordinates {(2,480)};
\addplot[ybar, bar width=21pt, bar shift=0pt, fill=ints, draw=black!15, line width=0.3pt] coordinates {(3,125)};
\end{axis}
\node[anchor=south west, font=\ftb, inner sep=0.5pt] at ([yshift=0.6pt]e2.north west) {Lungs – significants};

% ---------------- Panel F ----------------
\begin{axis}[at={(314.5pt,59pt)}, anchor=south west, width=128pt, height=92.5pt,
  xmin=0.4, xmax=3.6, ymin=-20.7, ymax=434.7, ybar stacked, bar width=36pt,
  xtick={1,2,3}, xticklabels={COVID−19 vs NPC,COVID−19 vs UIP,COVID−19 vs OFP},
  xticklabel style={rotate=45, anchor=north east, inner sep=0.5pt},
  ytick={0,100,200,300,400}, yticklabels={0,100,200,300,400}, ylabel={Count},
  reverse legend, legend cell align=left,
  legend style={draw=none, fill=none, at={(1.064,0.565)}, anchor=north west, inner sep=0pt,
    row sep=3.5pt, font=\fl, text=black!85}]
\addplot[fill=phs, draw=white, line width=0.4pt, legend image code/.code={\fill[phs] (0pt,-4.2pt) rectangle (8.5pt,4.2pt);}] coordinates {(1,336)(2,252)(3,97)};
\addlegendentry{Phospho Specific}
\addplot[fill=ints, draw=white, line width=0.4pt, legend image code/.code={\fill[ints] (0pt,-4.2pt) rectangle (8.5pt,4.2pt);}] coordinates {(1,78)(2,45)(3,10)};
\addlegendentry{Intersection}
\end{axis}
\node[anchor=west, font=\ftb] at (450.5pt,120pt) {Type of Phospho Site};

% ---------------- Panel letters ----------------
\node[font=\fpl] at (6pt,602pt) {A};
\node[font=\fpl] at (275pt,602pt) {B};
\node[font=\fpl] at (6pt,421.5pt) {C};
\node[font=\fpl] at (275pt,421.5pt) {D};
\node[font=\fpl] at (6pt,160.5pt) {E};
\node[font=\fpl] at (275pt,159.75pt) {F};
\end{tikzpicture}
\end{document}
